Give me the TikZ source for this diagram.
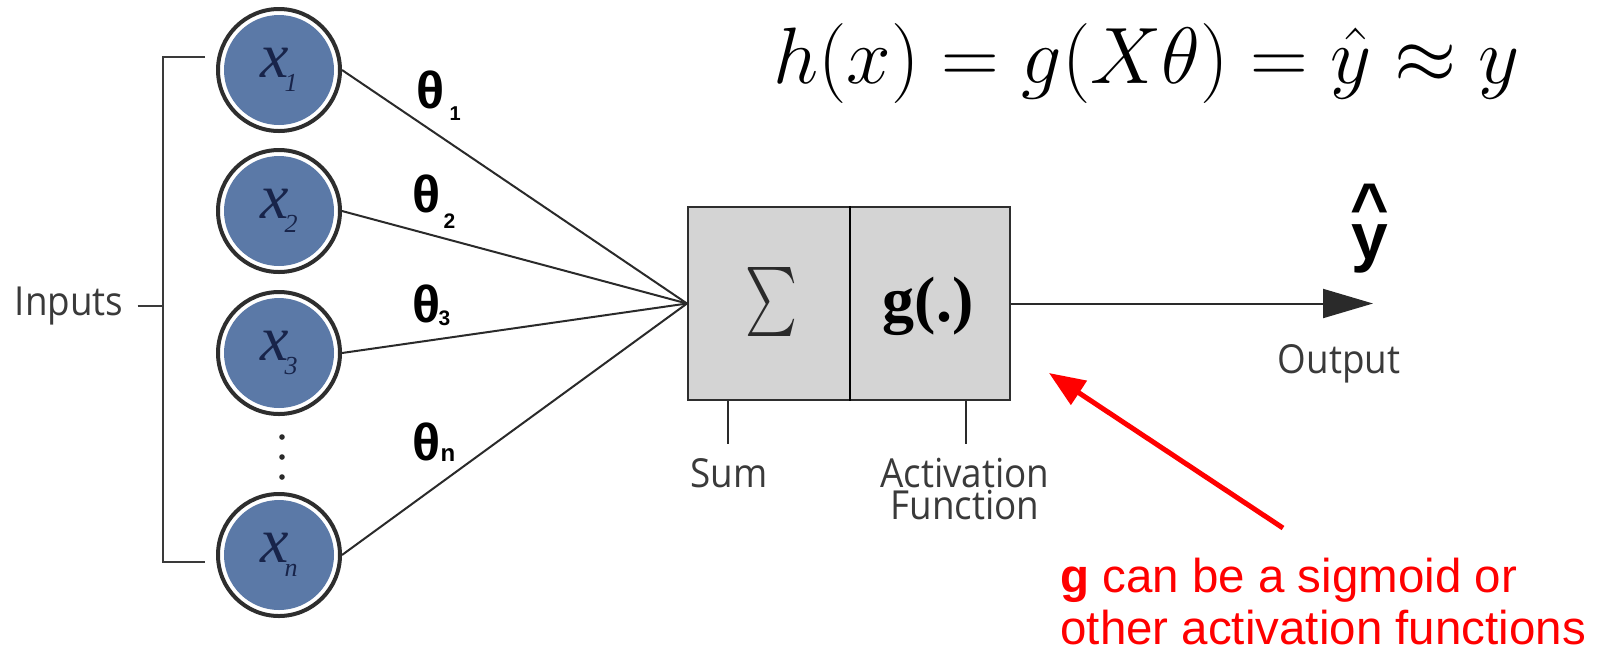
\documentclass[tikz,border=0pt]{standalone}
\usepackage{fix-cm}
\usepackage{fontspec}
\usepackage{amsmath}
\usepackage{graphicx}
\usetikzlibrary{arrows.meta}
\newfontfamily\osans[FakeStretch=0.92]{Open Sans}
\newfontfamily\asans{Liberation Sans}
\newfontfamily\tserif{Liberation Serif}
\definecolor{ringcol}{HTML}{2E2E2E}
\definecolor{nodeblue}{HTML}{5B79A7}
\definecolor{labnavy}{HTML}{18244A}
\definecolor{boxgray}{HTML}{D4D4D4}
\definecolor{txtgray}{HTML}{3A3A3A}
\definecolor{linegray}{HTML}{2A2A2A}
\definecolor{redc}{HTML}{FF0000}
\newcommand{\xlab}[1]{x\kern-2pt\raisebox{-7pt}{\fontsize{13}{13}\selectfont #1}}
\newcommand{\thlab}[4]{θ\kern#2\raisebox{-#3}{\fontsize{#4}{#4}\selectfont #1}}
\newcommand{\tightlines}{\lineskiplimit=-100pt\relax}
\begin{document}
\begin{tikzpicture}[x=0.5pt,y=-0.5pt,
  inp/.style={circle, draw=ringcol, line width=2pt, fill=white, minimum size=61pt, inner sep=0pt,
    text=labnavy, font=\tserif\itshape\fontsize{32}{32}\selectfont,
    path picture={\fill[nodeblue] (path picture bounding box.center) circle (27.5pt);}},
  wire/.style={draw=linegray, line width=1pt},
  bracketline/.style={draw=txtgray, line width=1pt},
  thetalab/.style={anchor=base west, inner sep=0pt, text=black, font=\asans\bfseries\fontsize{26}{26}\selectfont},
  graylab/.style={inner sep=0pt, text=txtgray, font=\osans\fontsize{20}{16}\selectfont},
  dotmark/.style={fill=linegray}
]
\useasboundingbox (0,0) rectangle (1602,655);

% equation
\node[anchor=base west, inner sep=0pt, font=\fontsize{40}{40}\selectfont] (eq) at (773,83)
  {$h(x) = g(X\theta) = \hat{y} \approx y$};

% input neurons
\node[inp] (x1) at (279,70) {\xlab{1}};
\node[inp] (x2) at (279,211) {\xlab{2}};
\node[inp] (x3) at (279,353) {\xlab{3}};
\node[inp] (xn) at (279,555) {\xlab{n}};
\fill[dotmark] (282,437) circle (1.4pt);
\fill[dotmark] (282,457) circle (1.4pt);
\fill[dotmark] (282,477) circle (1.4pt);

% bracket and Inputs label
\node[graylab, anchor=base] (inputs) at (69,315) {Inputs};
\coordinate (brtop) at (205,57);
\coordinate (brL) at (163,57);
\coordinate (brLb) at (163,562);
\coordinate (brbot) at (205,562);
\draw[bracketline] (brtop) -- (brL) -- (brLb) -- (brbot);
\draw[bracketline] ([xshift=7pt]inputs.east) -- (inputs.east -| brL);

% box
\node[draw=ringcol, line width=1pt, fill=boxgray, minimum width=161pt, minimum height=96.5pt, inner sep=0pt] (box) at (849,303.5) {};
\draw[draw=black, line width=1pt] ([xshift=81.5pt]box.north west) -- ([xshift=81.5pt]box.south west);
\node[inner sep=0pt, text=linegray] (sum) at (771,302) {\resizebox*{26pt}{34.5pt}{$\sum$}};
\node[inner sep=0pt, text=black, font=\tserif\bfseries\fontsize{32}{32}\selectfont] (gfun) at (928,306) {g(.)};

% connections
\draw[wire] (x1.east) -- (box.west);
\draw[wire] (x2.east) -- (box.west);
\draw[wire] (x3.east) -- (box.west);
\draw[wire] (xn.east) -- (box.west);

% weights
\node[thetalab] (t1) at (416,108) {\thlab{1}{2.5pt}{6pt}{10}};
\node[thetalab] (t2) at (412,212) {\thlab{2}{1.5pt}{8pt}{10.5}};
\node[thetalab] (t3) at (412,322) {\thlab{3}{-1pt}{1.5pt}{10.5}};
\node[thetalab] (tn) at (412,460) {\thlab{n}{0pt}{0.5pt}{12}};

% sum / activation ticks
\coordinate (sumtick) at ([xshift=20.5pt,yshift=-21.5pt]box.south west);
\coordinate (acttick) at ([xshift=139.5pt,yshift=-21.5pt]box.south west);
\draw[wire, line width=0.8pt] ([xshift=20.5pt]box.south west) -- (sumtick);
\draw[wire, line width=0.8pt] ([xshift=139.5pt]box.south west) -- (acttick);
\node[graylab, anchor=base] (sumlab) at (729,487) {Sum};
\node[graylab, anchor=north, align=center] (actlab) at (965,458) {Activation\\Function};

% output
\coordinate (outtip) at (1373,303.5);
\draw[wire, -{Triangle[length=25pt,width=14.5pt]}] (box.east) -- (outtip);
\node[anchor=north, inner sep=0pt, align=center, text=black,
  font=\asans\bfseries\fontsize{33}{15}\selectfont\tightlines] (yhat) at (1370,184) {\textasciicircum\\y};
\node[graylab, anchor=base] (outlab) at (1339,373) {Output};

% red annotation
\node[anchor=north west, inner sep=0pt, align=left, text=redc,
  font=\asans\fontsize{23.75}{26}\selectfont] (note) at (1060,558)
  {\textbf{g} can be a sigmoid or\\other activation functions};
\coordinate (redtail) at (1283,528);
\coordinate (redtip) at (1049,373);
\draw[draw=redc, line width=2.5pt, -{Triangle[length=18pt,width=14pt]}] (redtail) -- (redtip);
\end{tikzpicture}
\end{document}
